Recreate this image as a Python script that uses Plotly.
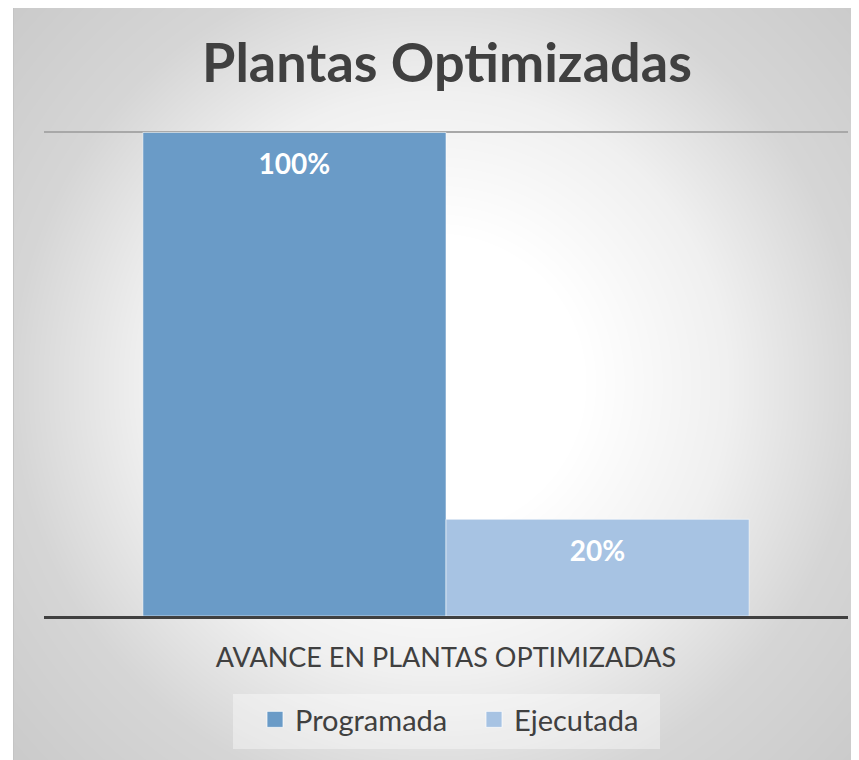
import zlib, struct, base64
import numpy as np
import plotly.graph_objects as go

# ---- data ----
categories = ["AVANCE EN PLANTAS OPTIMIZADAS"]
series_names = ["Programada", "Ejecutada"]
programada = [1.00]
ejecutada = [0.20]
series_values = [programada, ejecutada]
colors = ["#6a9bc7", "#a7c3e3"]

# page has an 8px body margin; work in figure coordinates
OFF = 8
W, H = 859 - OFF, 760 - OFF
L, R, T, B = 44 - OFF, 11, 131 - OFF, 144
PW, PH = W - L - R, H - T - B

# ---- radial gradient background (style only) ----
x0px, y0px = 13 - OFF, 0
iw, ih = W - x0px, H - y0px
yy, xx = np.mgrid[0:ih, 0:iw]
cx, cy = 436 - OFF - x0px, 383 - OFF - y0px
d = np.sqrt((xx - cx) ** 2 + (yy - cy) ** 2)
g = np.interp(d, [0, 150, 293, 423, 567, 700], [255, 255, 240, 214, 203, 200])
g = g.astype(np.uint8)
g[:, 0] = 196


def png_uri(arr):
    h, w = arr.shape
    raw = b"".join(b"\x00" + arr[i].tobytes() for i in range(h))

    def chunk(t, data):
        c = struct.pack(">I", len(data)) + t + data
        return c + struct.pack(">I", zlib.crc32(t + data) & 0xFFFFFFFF)

    png = (b"\x89PNG\r\n\x1a\n"
           + chunk(b"IHDR", struct.pack(">IIBBBBB", w, h, 8, 0, 0, 0, 0))
           + chunk(b"IDAT", zlib.compress(raw, 9))
           + chunk(b"IEND", b""))
    return "data:image/png;base64," + base64.b64encode(png).decode()


bg_uri = png_uri(g)

fig = go.Figure()
groups = ["p", "e"]
for name, vals, col, grp in zip(series_names, series_values, colors, groups):
    fig.add_trace(go.Bar(
        x=categories, y=vals, name=name, offsetgroup=grp,
        marker=dict(color=col, line=dict(color="rgba(255,255,255,0.55)", width=1)),
        showlegend=False, hoverinfo="skip",
    ))
for name, vals, col, grp in zip(series_names, series_values, colors, groups):
    fig.add_trace(go.Scatter(
        x=categories, y=vals, offsetgroup=grp, mode="markers+text",
        texttemplate="%{y:.0%}", textposition="bottom center",
        textfont=dict(family="Lato", size=28, color="white", weight=700),
        marker=dict(size=32, opacity=0), cliponaxis=False,
        showlegend=False, hoverinfo="skip",
    ))
for name, col, grp in zip(series_names, colors, groups):
    fig.add_trace(go.Scatter(
        x=[None], y=[None], name=name, offsetgroup=grp, mode="markers",
        marker=dict(symbol="square", size=16, color=col,
                    line=dict(color="rgba(255,255,255,0.7)", width=1)),
        showlegend=True, hoverinfo="skip",
    ))


def px_x(p):  # page x -> paper
    return (p - OFF - L) / PW


def px_y(p):  # page y -> paper
    return (H - B - (p - OFF)) / PH


fig.update_layout(
    width=W, height=H,
    margin=dict(l=L, r=R, t=T, b=B, autoexpand=False),
    paper_bgcolor="white", plot_bgcolor="rgba(0,0,0,0)",
    barmode="group", bargap=0.246, bargroupgap=0.0,
    scattermode="group", scattergap=0.246,
    title=dict(text="Plantas Optimizadas", x=px_x(447), xref="paper", xanchor="center",
               y=1 - (63 - OFF) / H, yanchor="middle", yref="container",
               font=dict(family="Lato", size=54, color="#404040", weight=700)),
    xaxis=dict(type="category", showline=True, linecolor="#404040", linewidth=3,
               showgrid=False, ticks="", ticklabelstandoff=16,
               tickfont=dict(family="Lato", size=27, color="#404040")),
    yaxis=dict(range=[0, 1.003], dtick=1, tick0=0, showticklabels=False,
               showgrid=True, gridcolor="#a8a8a8", gridwidth=2, zeroline=False),
    legend=dict(orientation="h", x=px_x(255), xanchor="left", y=px_y(694),
                yanchor="top", bgcolor="rgba(0,0,0,0)", entrywidth=174,
                font=dict(family="Lato", size=29, color="#404040")),
    shapes=[dict(type="rect", xref="paper", yref="paper",
                 x0=px_x(233), x1=px_x(660), y0=px_y(749), y1=px_y(694),
                 fillcolor="rgba(255,255,255,0.38)", line=dict(width=0),
                 layer="below")],
    images=[dict(source=bg_uri, xref="paper", yref="paper",
                 x=(x0px - L) / PW, y=(H - B - y0px) / PH,
                 sizex=iw / PW, sizey=ih / PH,
                 xanchor="left", yanchor="top", sizing="stretch", layer="below")],
    showlegend=True,
)

fig.write_html("out.html")
